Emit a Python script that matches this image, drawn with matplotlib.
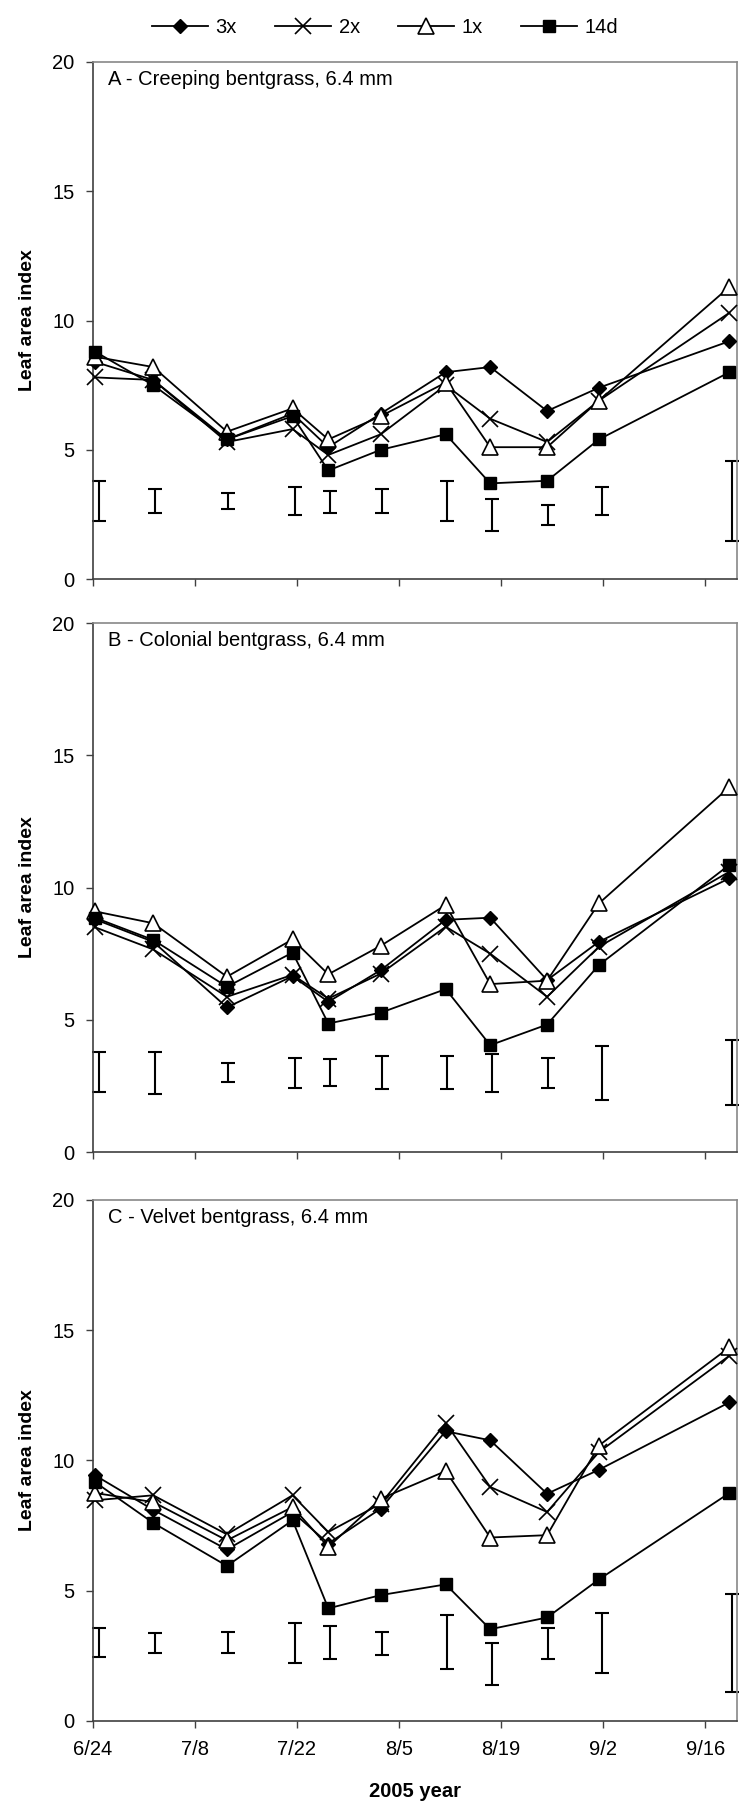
import matplotlib
matplotlib.use("Agg")
import matplotlib.pyplot as plt
from matplotlib.lines import Line2D
import numpy as np

plt.rcParams['font.family'] = ['Liberation Sans', 'DejaVu Sans']

# days after 6/24 (2005)
days = [0.3, 8.3, 18.4, 27.4, 32.3, 39.5, 48.4, 54.5, 62.3, 69.4, 87.3]
lsd_days = [0.8, 8.6, 18.5, 27.8, 32.5, 39.7, 48.6, 54.7, 62.4, 69.8, 87.6]
tick_days = [0, 14, 28, 42, 56, 70, 84]
tick_labels = ['6/24', '7/8', '7/22', '8/5', '8/19', '9/2', '9/16']

# A - creeping bentgrass
a_3x = [8.4, 7.7, 5.4, 6.4, 5.1, 6.4, 8.0, 8.2, 6.5, 7.4, 9.2]
a_2x = [7.8, 7.7, 5.3, 5.8, 4.8, 5.6, 7.5, 6.2, 5.3, 6.9, 10.3]
a_1x = [8.6, 8.2, 5.7, 6.6, 5.4, 6.3, 7.6, 5.1, 5.1, 6.9, 11.3]
a_14d = [8.8, 7.5, 5.4, 6.3, 4.2, 5.0, 5.6, 3.7, 3.8, 5.4, 8.0]
a_lo = [2.24, 2.54, 2.72, 2.48, 2.54, 2.54, 2.24, 1.85, 2.08, 2.48, 1.46]
a_hi = [3.79, 3.49, 3.31, 3.56, 3.40, 3.49, 3.79, 3.10, 2.86, 3.56, 4.57]

# B - colonial bentgrass
b_3x = [8.8, 7.95, 5.47, 6.65, 5.68, 6.88, 8.78, 8.86, 6.5, 7.95, 10.35]
b_2x = [8.5, 7.66, 5.87, 6.7, 5.8, 6.75, 8.52, 7.5, 5.87, 7.76, 10.6]
b_1x = [9.1, 8.65, 6.63, 8.04, 6.72, 7.8, 9.34, 6.35, 6.48, 9.4, 13.8]
b_14d = [8.86, 8.02, 6.25, 7.54, 4.86, 5.27, 6.16, 4.04, 4.82, 7.07, 10.86]
b_lo = [2.27, 2.21, 2.65, 2.44, 2.51, 2.37, 2.37, 2.27, 2.44, 1.98, 1.77]
b_hi = [3.79, 3.79, 3.35, 3.57, 3.50, 3.64, 3.64, 3.72, 3.57, 4.02, 4.25]

# C - velvet bentgrass
c_3x = [9.43, 8.1, 6.58, 8.02, 6.81, 8.15, 11.12, 10.77, 8.72, 9.64, 12.23]
c_2x = [8.47, 8.66, 7.16, 8.66, 7.25, 8.34, 11.43, 8.98, 8.02, 10.32, 14.02]
c_1x = [8.75, 8.4, 6.93, 8.21, 6.68, 8.53, 9.59, 7.04, 7.13, 10.57, 14.34]
c_14d = [9.17, 7.6, 5.95, 7.7, 4.32, 4.83, 5.24, 3.52, 3.97, 5.43, 8.75]
c_lo = [2.44, 2.59, 2.59, 2.21, 2.36, 2.52, 1.98, 1.38, 2.36, 1.83, 1.12]
c_hi = [3.58, 3.36, 3.42, 3.74, 3.65, 3.42, 4.06, 2.98, 3.58, 4.13, 4.87]

panels = [
    ('A - Creeping bentgrass, 6.4 mm', [a_3x, a_2x, a_1x, a_14d], a_lo, a_hi),
    ('B - Colonial bentgrass, 6.4 mm', [b_3x, b_2x, b_1x, b_14d], b_lo, b_hi),
    ('C - Velvet bentgrass, 6.4 mm', [c_3x, c_2x, c_1x, c_14d], c_lo, c_hi),
]
names = ['3x', '2x', '1x', '14d']
styles = [
    dict(marker='D', ms=7.5, mfc='k', mec='k'),
    dict(marker='x', ms=11, mfc='k', mec='k', mew=1.2),
    dict(marker='^', ms=11, mfc='white', mec='k', mew=1.2),
    dict(marker='s', ms=8, mfc='k', mec='k'),
]

fig = plt.figure(figsize=(7.52, 18.18), dpi=100)
boxes = [(0.1233, 0.6815, 0.8564, 0.2844),
         (0.1233, 0.3663, 0.8564, 0.2910),
         (0.1233, 0.0534, 0.8564, 0.2866)]

for i, (title, series, lo, hi) in enumerate(panels):
    ax = fig.add_axes(boxes[i])
    for vals, st in zip(series, styles):
        ax.plot(days, vals, color='k', lw=1.3, clip_on=False, zorder=3, **st)
    lo = np.array(lo)
    hi = np.array(hi)
    ax.errorbar(lsd_days, (lo + hi) / 2, yerr=(hi - lo) / 2, fmt='none',
                ecolor='k', elinewidth=1.5, capsize=5, capthick=1.5, clip_on=False)
    ax.set_xlim(0, 88.3)
    ax.set_ylim(0, 20)
    ax.set_yticks([0, 5, 10, 15, 20])
    ax.set_xticks(tick_days)
    if i == 2:
        ax.set_xticklabels(tick_labels)
        ax.set_xlabel('2005 year', fontsize=14.5, fontweight='bold', labelpad=16)
    else:
        ax.set_xticklabels([])
    ax.tick_params(axis='both', direction='out', length=5, width=1, labelsize=14.5, color='#404040')
    ax.tick_params(axis='y', pad=8)
    ax.tick_params(axis='x', pad=9)
    ax.set_ylabel('Leaf area index', fontsize=14, fontweight='bold')
    ax.yaxis.set_label_coords(-0.088, 0.5)
    for s in ['left', 'bottom']:
        ax.spines[s].set_color('#404040')
        ax.spines[s].set_linewidth(1.2)
    for s in ['top', 'right']:
        ax.spines[s].set_color('#888888')
        ax.spines[s].set_linewidth(1.2)
    ax.text(0.024, 0.967, title, transform=ax.transAxes, fontsize=14.5, va='center', ha='left')

handles = [Line2D([], [], color='k', lw=1.3, **st) for st in styles]
fig.legend(handles, names, loc='center', bbox_to_anchor=(0.512, 0.9846), ncol=4,
           frameon=False, fontsize=14.5, handlelength=2.8, handletextpad=0.35,
           columnspacing=1.9)

fig.savefig('out.png', dpi=100)
